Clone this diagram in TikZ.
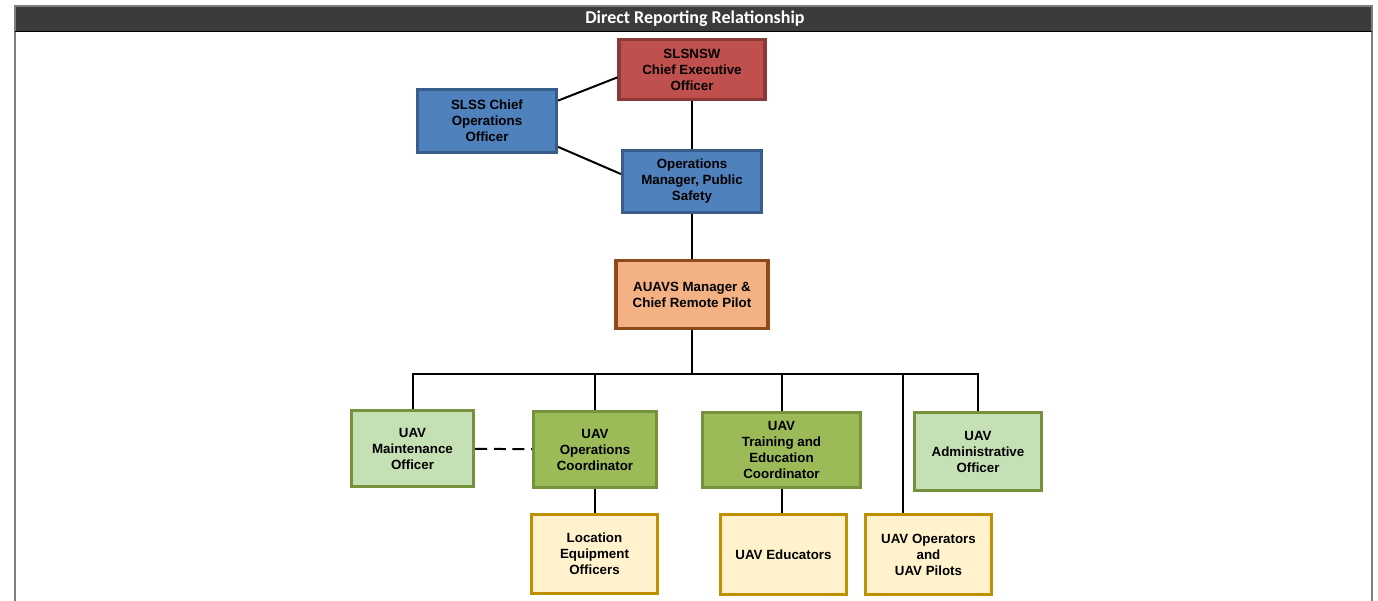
\documentclass[tikz,border=0pt]{standalone}
\usepackage{fontspec}
\setmainfont{Liberation Sans}
\newfontfamily\headfont{Carlito}
\usepackage{xcolor}
\usetikzlibrary{positioning}
\definecolor{ceoRed}{HTML}{C0504D}
\definecolor{ceoRedDark}{HTML}{8C3A38}
\definecolor{opsBlue}{HTML}{4F81BD}
\definecolor{opsBlueDark}{HTML}{385D8A}
\definecolor{mgrOrange}{HTML}{F4B183}
\definecolor{mgrOrangeDark}{HTML}{8E4A1C}
\definecolor{uavGreen}{HTML}{9BBB59}
\definecolor{uavGreenLight}{HTML}{C5E0B4}
\definecolor{uavGreenDark}{HTML}{76923C}
\definecolor{crewYellow}{HTML}{FFF2CC}
\definecolor{crewGold}{HTML}{BF9000}
\definecolor{headGray}{HTML}{3B3B39}
\definecolor{frameGray}{HTML}{7F7F7F}

\begin{document}
\begin{tikzpicture}[
    x=0.75pt, y=-0.75pt,
    font=\bfseries\fontsize{10}{12}\selectfont,
    box/.style 2 args={draw, line width=2.4pt, align=center, inner sep=2pt,
      minimum width=(#1-3)*0.75pt, minimum height=(#2-3)*0.75pt},
    redbox/.style={fill=ceoRed, draw=ceoRedDark},
    bluebox/.style={fill=opsBlue, draw=opsBlueDark},
    orangebox/.style={fill=mgrOrange, draw=mgrOrangeDark},
    greenbox/.style={fill=uavGreen, draw=uavGreenDark},
    lightbox/.style={fill=uavGreenLight, draw=uavGreenDark},
    crewbox/.style={fill=crewYellow, draw=crewGold},
    link/.style={line width=1.5pt, draw=black}
  ]
    \useasboundingbox (0,0) rectangle (1378,600);

    % frame and title band
    \fill[headGray] (15,6) rectangle (1372,31.5);
    \draw[frameGray, line width=1.5pt] (15,620) -- (15,6) -- (1372,6) -- (1372,620);
    \draw[black, line width=1pt] (15,31.5) -- (1372,31.5);
    \node[text=white, font=\headfont\bfseries\fontsize{13.5}{15}\selectfont] (title) at (695,18.5) {Direct Reporting Relationship};

    % management
    \node[box={149}{63}, redbox] (ceo) at (692,69.5) {SLSNSW\\Chief Executive\\Officer};
    \node[box={142}{66}, bluebox] (coo) at (487,121) {SLSS Chief\\Operations\\Officer};
    \node[box={142}{65}, bluebox] (opsmgr) at (692,181.5) {Operations\\Manager, Public\\Safety};
    \node[box={155}{71}, orangebox] (auavs) at (692,294.5) {AUAVS Manager \&\\Chief Remote Pilot};

    % UAV team
    \node[box={125}{79}, lightbox] (maint) at (412.5,448.5) {UAV\\Maintenance\\Officer};
    \node[box={126}{79}, greenbox] (opscoord) at (595,449.5) {UAV\\Operations\\Coordinator};
    \node[box={161}{78}, greenbox] (training) at (781.5,450) {UAV\\Training and\\Education\\Coordinator};
    \node[box={130}{81}, lightbox] (admin) at (978,451.5) {UAV\\Administrative\\Officer};
    \node[box={129}{82}, crewbox] (location) at (594.5,554) {Location\\Equipment\\Officers};
    \node[box={129}{83}, crewbox] (educators) at (783.5,554.5) {UAV Educators};
    \node[box={129}{83}, crewbox] (operators) at (928.5,554.5) {UAV Operators\\and\\UAV Pilots};

    \coordinate (bus) at (692,374);
    \coordinate (opdrop) at (903,374);

    \draw[link] (ceo) -- (opsmgr);
    \draw[link] (coo.16.5) -- (ceo.-174.3);
    \draw[link] (coo.-20) -- (opsmgr.174.8);
    \draw[link] (opsmgr) -- (auavs);
    \draw[link] (auavs) -- (bus);
    \draw[link] (maint) |- (bus) -| (admin);
    \draw[link] (opscoord) -- (opscoord |- bus);
    \draw[link] (training) -- (training |- bus);
    \draw[link] (opdrop) -- (opdrop |- operators.north);
    \draw[link] (opscoord.south) -- (opscoord.south |- location.north);
    \draw[link] (training.south) -- (training.south |- educators.north);
    \draw[link, dashed, dash pattern=on 9pt off 5pt] (maint) -- (opscoord);
  \end{tikzpicture}
\end{document}
